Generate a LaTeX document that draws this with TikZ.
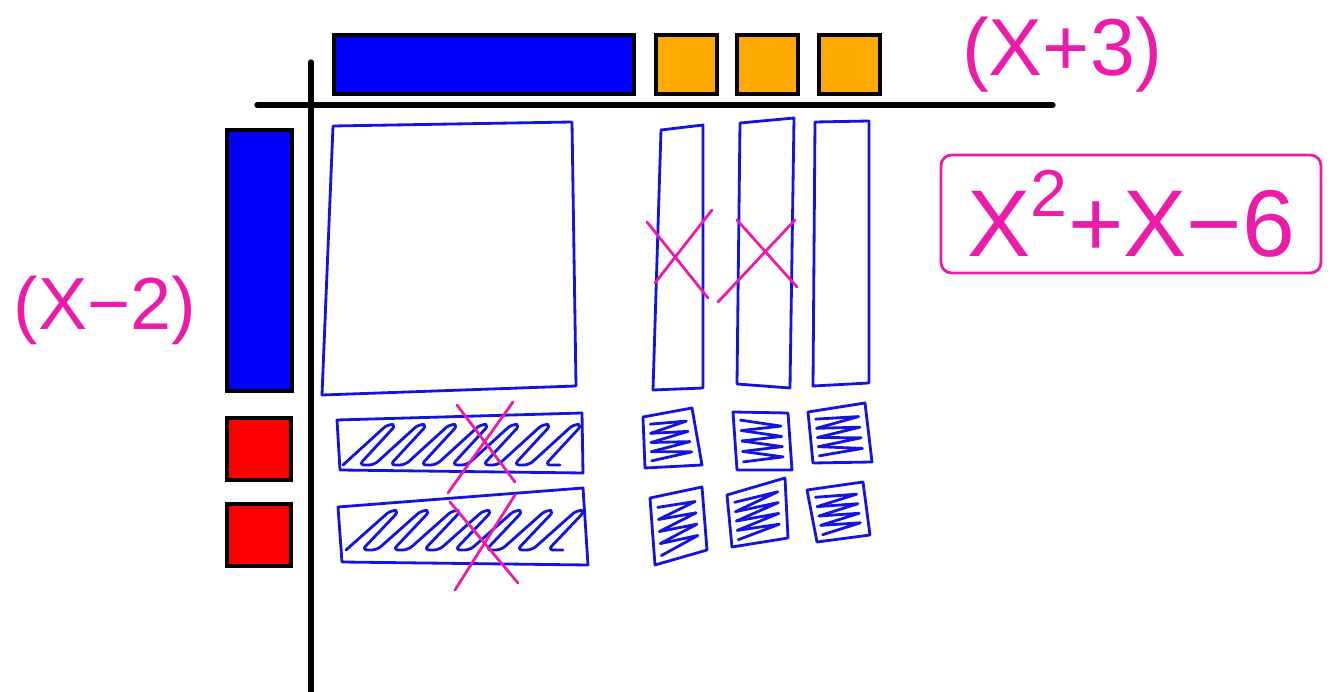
\documentclass[tikz,border=0pt]{standalone}
\usepackage{fontspec}
\setmainfont{Liberation Sans}
\usetikzlibrary{calc}

\definecolor{inkpink}{RGB}{236,28,170}
\definecolor{inkblue}{RGB}{20,20,225}
\definecolor{tileblue}{RGB}{0,0,255}
\definecolor{tilered}{RGB}{255,0,0}
\definecolor{tileorange}{RGB}{255,170,0}

\tikzset{
  axisline/.style={line width=3pt, line cap=round},
  tile/.style={draw=black, line width=1.8pt},
  sketch/.style={draw=inkblue, line width=1.6pt, line join=round, line cap=round},
  pinkx/.style={draw=inkpink, line width=1.6pt, line cap=round},
  factortext/.style={text=inkpink, font=\fontsize{46}{50}\selectfont},
}

\begin{document}
\begin{tikzpicture}[x=0.02cm, y=-0.02cm]
\useasboundingbox (0,0) rectangle (1340,692);

% Axes
\draw[axisline] (311,62) -- (311,692);
\draw[axisline] (257,105) -- (1053,105);

% Factor tiles along the top: x + 3
\draw[tile, fill=tileblue] (334,35) rectangle (634,94);
\foreach \x in {656,737,819} {
    \draw[tile, fill=tileorange] (\x,35) rectangle ++(61,59);
}

% Factor tiles down the side: x - 2
\draw[tile, fill=tileblue] (227,130) rectangle (292,391);
\foreach \y in {418,504} {
    \draw[tile, fill=tilered] (227,\y) rectangle ++(64,62);
}

% Labels
\node[factortext] (topfactor) at (1062,55) {(X+3)};
\node[factortext, font=\fontsize{42}{46}\selectfont] (sidefactor) at (105,310) {(X−2)};
\node[factortext, draw=inkpink, line width=1.6pt, rounded corners=6pt,
      minimum width=7.6cm, minimum height=2.36cm,
      font=\fontsize{54}{58}\selectfont] (product) at (1131,214)
      {X\raisebox{0.25em}{\textsuperscript{2}}+X−6};

% x^2 square
\draw[sketch] (333,126) -- (572,122) -- (576,386) -- (322,395) -- cycle;

% x strips (three of them)
\foreach \ax/\ay/\bx/\by/\cx/\cy/\dx/\dy in {661/130/703/125/703/388/653/390,
                                             740/123/794/118/790/388/737/384,
                                             815/122/869/121/869/383/813/386} {
    \draw[sketch] (\ax,\ay) -- (\bx,\by) -- (\cx,\cy) -- (\dx,\dy) -- cycle;
}

% negative x strips, shaded
\draw[sketch] (337,420) -- (582,413) -- (583,473) -- (340,470) -- cycle;
\draw[sketch, rounded corners=3pt] (343,465)
    \foreach \k in {1,...,7} { -- ++(45,-41) -- ++(8,1) -- ++(-37,40) -- ++(15,0) };
\draw[sketch] (338,507) -- (583,488) -- (588,565) -- (342,562) -- cycle;
\draw[sketch, rounded corners=3pt] (346,550)
    \foreach \k in {1,...,7} { -- ++(45,-40) -- ++(8,1) -- ++(-37,39) -- ++(15,0) };

% negative unit squares, shaded
\foreach \ax/\ay/\bx/\by/\cx/\cy/\dx/\dy in {643/417/692/408/702/465/645/468,
                                             733/412/788/413/792/470/737/470,
                                             808/412/865/403/872/462/813/463,
                                             650/498/702/487/707/550/655/565,
                                             727/495/785/478/788/538/732/547,
                                             807/490/863/482/870/535/817/542} {
    \draw[sketch] (\ax,\ay) -- (\bx,\by) -- (\cx,\cy) -- (\dx,\dy) -- cycle;
    \foreach \t in {0.14,0.32,0.50,0.68} {
        \pgfmathsetmacro\tmid{\t+0.09}
        \pgfmathsetmacro\tend{\t+0.18}
        \draw[sketch] ($(\ax,\ay)!\t!(\dx,\dy) + (7,0)$)
                      -- ($(\bx,\by)!\tmid!(\cx,\cy) + (-8,0)$)
                      -- ($(\ax,\ay)!\tend!(\dx,\dy) + (7,0)$);
    }
}

% Zero pairs crossed out
\draw[pinkx] (457,405) -- (515,482);
\draw[pinkx] (513,402) -- (448,493);
\draw[pinkx] (450,502) -- (518,583);
\draw[pinkx] (515,495) -- (455,590);
\draw[pinkx] (647,222) -- (708,298);
\draw[pinkx] (655,283) -- (712,210);
\draw[pinkx] (737,220) -- (797,287);
\draw[pinkx] (718,302) -- (795,220);
\end{tikzpicture}
\end{document}
